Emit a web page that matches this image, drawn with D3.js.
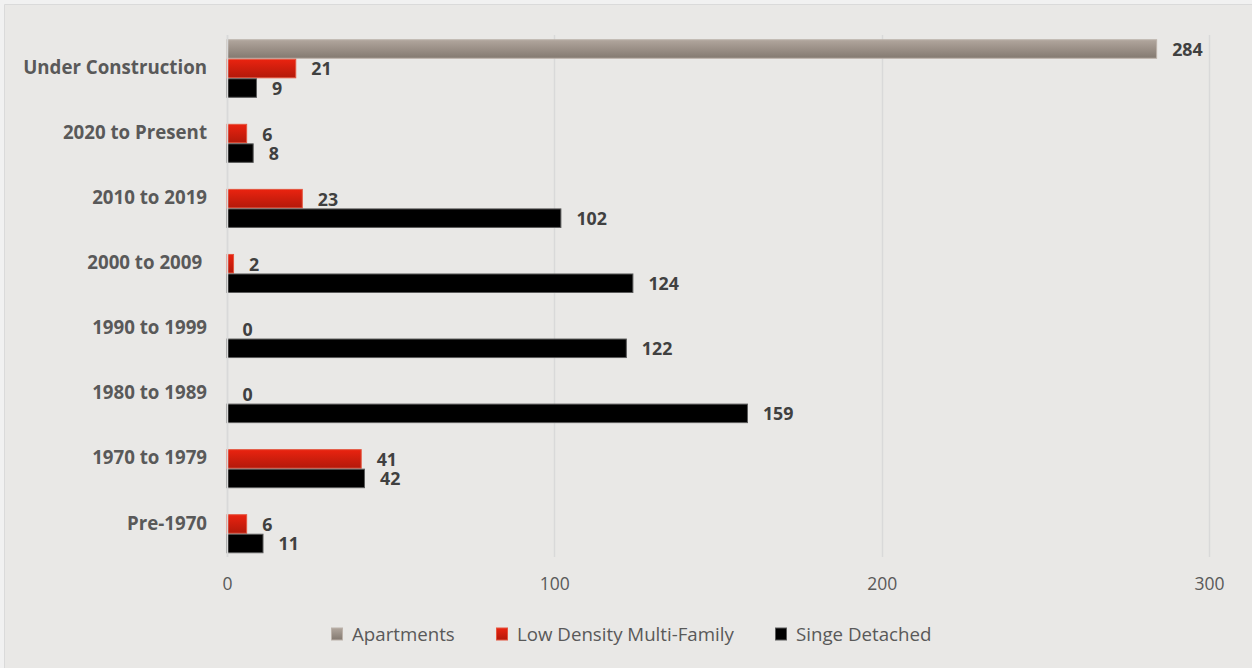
<!DOCTYPE html>
<html>
<head>
<meta charset="utf-8">
<script src="https://cdn.jsdelivr.net/npm/d3@7/dist/d3.min.js"></script>
<style>
  html, body { margin: 0; padding: 0; background: #f1f1f1; }
  svg { display: block; font-family: "Open Sans", "Noto Sans", sans-serif; }
</style>
</head>
<body>
<svg id="chart" width="1252" height="668"></svg>
<script>
// Housing units by period of construction
const categories = [
  "Under Construction", "2020 to Present", "2010 to 2019", "2000 to 2009\u00a0",
  "1990 to 1999", "1980 to 1989", "1970 to 1979", "Pre-1970"
];
const seriesNames = ["Apartments", "Low Density Multi-Family", "Singe Detached"];
const apartments = [284, null, null, null, null, null, null, null];
const lowDensity = [21, 6, 23, 2, 0, 0, 41, 6];
const singleDetached = [9, 8, 102, 124, 122, 159, 42, 11];
const xTicks = [0, 100, 200, 300];

const seriesValues = [apartments, lowDensity, singleDetached];

const W = 1252, H = 668;
const svg = d3.select("#chart");

// panel
svg.append("rect").attr("x", 5).attr("y", 5).attr("width", W - 5).attr("height", H - 5)
  .attr("fill", "#e9e8e6");
svg.append("line").attr("x1", 4.5).attr("x2", W).attr("y1", 4.5).attr("y2", 4.5)
  .attr("stroke", "#dadada");
svg.append("line").attr("x1", 4.5).attr("x2", 4.5).attr("y1", 4.5).attr("y2", H)
  .attr("stroke", "#dadada");

// gradients
const defs = svg.append("defs");
const fills = [
  { id: "gApt", top: "#b1a69d", bottom: "#837970", stroke: "#bcb2aa" },
  { id: "gLow", top: "#ea2310", bottom: "#b3190a", stroke: "#e4553f" },
  { id: "gSd", top: "#000000", bottom: "#000000", stroke: "#5a5a5a" }
];
fills.forEach(f => {
  const g = defs.append("linearGradient").attr("id", f.id)
    .attr("x1", 0).attr("x2", 0).attr("y1", 0).attr("y2", 1);
  g.append("stop").attr("offset", "0%").attr("stop-color", f.top);
  g.append("stop").attr("offset", "100%").attr("stop-color", f.bottom);
});

const x = d3.scaleLinear().domain([0, 300]).range([227, 1209]);
const y = d3.scaleBand().domain(categories).range([36, 556.5])
  .paddingInner(0.1).paddingOuter(0.05);
const ySub = d3.scaleBand().domain(seriesNames).range([0, y.bandwidth()]);

// gridlines
svg.append("g").selectAll("line").data(xTicks).join("line")
  .attr("x1", d => Math.round(x(d)) + 0.5).attr("x2", d => Math.round(x(d)) + 0.5)
  .attr("y1", 35).attr("y2", 557)
  .attr("stroke", "#d9d9d9").attr("stroke-width", 1.5);

// x axis labels
const xAxis = d3.axisBottom(x).tickValues(xTicks).tickSize(0).tickPadding(0);
const gx = svg.append("g").attr("transform", "translate(0,578)").call(xAxis);
gx.select(".domain").remove();
gx.selectAll("text").attr("font-size", 17.5).attr("fill", "#595959")
  .attr("font-family", "'Open Sans', sans-serif").attr("dy", "0.7em");

// y axis labels
const yAxis = d3.axisLeft(y).tickSize(0).tickPadding(0);
const gy = svg.append("g").attr("transform", "translate(207,0)").call(yAxis);
gy.select(".domain").remove();
gy.selectAll("text").attr("font-size", 18.7).attr("font-weight", 700)
  .attr("fill", "#595959").attr("font-family", "'Open Sans', sans-serif")
  .attr("dy", "0.35em")
  .attr("transform", d => `translate(0,${ySub(seriesNames[1]) + ySub.bandwidth() / 2 - y.bandwidth() / 2 - 1})`);

// bars
const rows = [];
categories.forEach((c, i) => {
  seriesNames.forEach((s, j) => {
    rows.push({ cat: c, series: s, idx: j, value: seriesValues[j][i] });
  });
});
const present = rows.filter(r => r.value !== null);

svg.append("g").selectAll("rect").data(present.filter(r => r.value > 0)).join("rect")
  .attr("x", x(0))
  .attr("y", r => y(r.cat) + ySub(r.series) + 0.5)
  .attr("width", r => x(r.value) - x(0))
  .attr("height", ySub.bandwidth() - 1)
  .attr("fill", r => `url(#${fills[r.idx].id})`)
  .attr("stroke", r => fills[r.idx].stroke)
  .attr("stroke-width", 1);

// value labels
svg.append("g").selectAll("text").data(present).join("text")
  .attr("x", r => x(r.value) + 15.5)
  .attr("y", r => y(r.cat) + ySub(r.series) + ySub.bandwidth() / 2 + 0.5)
  .attr("dy", "0.36em")
  .attr("font-size", 17.8).attr("font-weight", 700).attr("fill", "#404040")
  .text(r => r.value);

// y axis line
svg.append("line").attr("x1", 227.5).attr("x2", 227.5).attr("y1", 35).attr("y2", 557)
  .attr("stroke", "#d9d9d9").attr("stroke-width", 1.5);

// legend
const legendX = [331, 496, 775];
const lg = svg.append("g").selectAll("g").data(seriesNames).join("g")
  .attr("transform", (d, i) => `translate(${legendX[i]},634)`);
lg.append("rect").attr("x", 0.5).attr("y", -6).attr("width", 11).attr("height", 12)
  .attr("fill", (d, i) => `url(#${fills[i].id})`)
  .attr("stroke", (d, i) => fills[i].stroke);
lg.append("text").attr("x", 21).attr("dy", "0.35em")
  .attr("font-size", 18.7).attr("fill", "#595959")
  .text(d => d);
</script>
</body>
</html>
